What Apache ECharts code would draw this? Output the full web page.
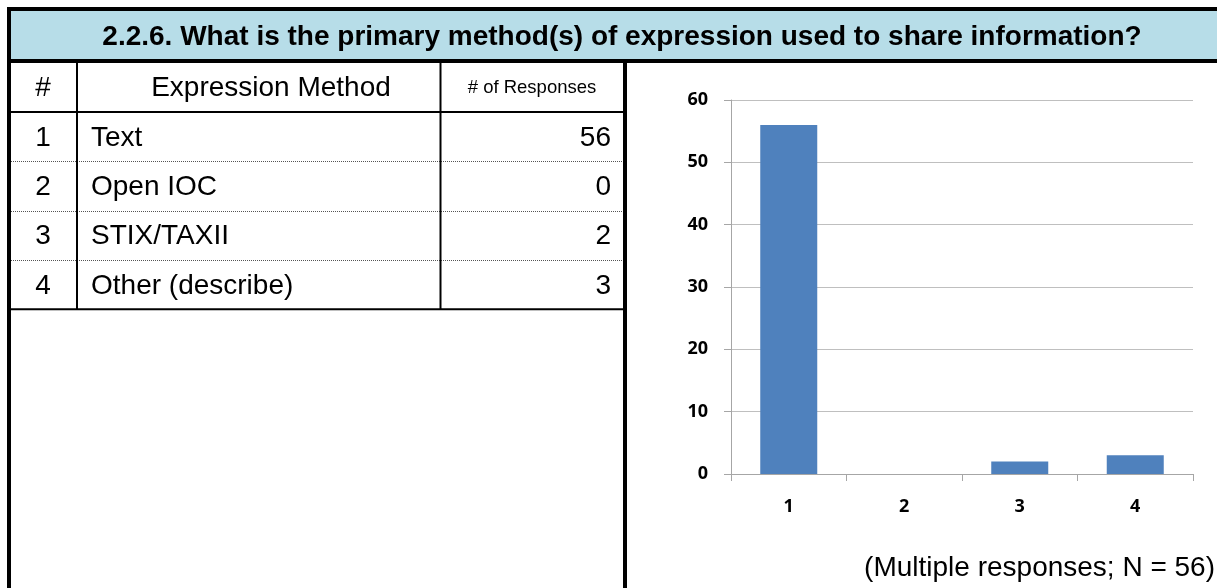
<!DOCTYPE html>
<html>
<head>
<meta charset="utf-8">
<script src="https://cdn.jsdelivr.net/npm/echarts@6/dist/echarts.min.js"></script>
<style>
  html, body { margin: 0; padding: 0; background: #fff; }
  #chart { width: 1217px; height: 588px; }
</style>
</head>
<body>
<div id="chart"></div>
<script>
// Survey question and its answer table
const questionTitle = '2.2.6. What is the primary method(s) of expression used to share information?';
const headerLabels = ['#', 'Expression Method', '# of Responses'];
const rowNumbers = ['1', '2', '3', '4'];
const methods = ['Text', 'Open IOC', 'STIX/TAXII', 'Other (describe)'];
const responses = [56, 0, 2, 3];
const footnote = '(Multiple responses; N = 56)';
const yTicks = { min: 0, max: 60, interval: 10 };

const chart = echarts.init(document.getElementById('chart'), null, { renderer: 'canvas' });

const FONT = '"Liberation Sans", Arial, sans-serif';
const TICK_FONT = '"Open Sans", "DejaVu Sans", sans-serif';

// Table geometry
const tableLeft = 9, tableRight = 625;
const headerTop = 61, headerBottom = 112;
const rowH = 49.3;
const col1 = 77, col2 = 440.5;

const g = [];
function line(x1, y1, x2, y2, w, extra) {
  g.push(Object.assign({
    type: 'line', silent: true,
    shape: { x1, y1, x2, y2 },
    style: Object.assign({ stroke: '#000', lineWidth: w }, extra || {})
  }));
}
function text(str, x, y, size, align, weight) {
  g.push({
    type: 'text', silent: true, x, y,
    style: {
      text: str, fill: '#000', font: (weight || 'normal') + ' ' + size + 'px ' + FONT,
      textAlign: align || 'left', textVerticalAlign: 'middle'
    }
  });
}

// Title band
g.push({ type: 'rect', silent: true, shape: { x: 9, y: 9, width: 1210, height: 52 }, style: { fill: '#B7DDE8' } });
text(questionTitle, 622, 37, 28, 'center', 'bold');

// Header row
text(headerLabels[0], (tableLeft + col1) / 2, 88, 28, 'center');
text(headerLabels[1], 271, 88, 28, 'center');
text(headerLabels[2], 532, 88, 18.5, 'center');

// Body rows
rowNumbers.forEach((n, i) => {
  const cy = headerBottom + rowH * i + rowH / 2 + 1.5;
  text(n, (tableLeft + col1) / 2, cy, 28, 'center');
  text(methods[i], 91, cy, 28, 'left');
  text(String(responses[i]), 611, cy, 28, 'right');
});

// Grid rules
const bodyBottom = headerBottom + rowH * rowNumbers.length;
for (let i = 1; i < rowNumbers.length; i++) {
  const y = Math.round(headerBottom + rowH * i) + 0.5;
  line(tableLeft, y, tableRight, y, 1, { stroke: '#555', lineDash: [1, 1] });
}
line(tableLeft, headerBottom, tableRight, headerBottom, 2);
line(tableLeft, bodyBottom, tableRight, bodyBottom, 2);
line(col1, headerTop, col1, bodyBottom, 2);
line(col2, headerTop, col2, bodyBottom, 2);

// Frame
line(7, 9, 1217, 9, 4);
line(9, 7, 9, 588, 4);
line(7, 61, 1217, 61, 4);
line(tableRight, 61, tableRight, 588, 4);

// Footnote
text(footnote, 1215, 568, 28, 'right');

chart.setOption({
  animation: false,
  backgroundColor: '#fff',
  grid: { left: 731, right: 24, top: 100, bottom: 114, containLabel: false },
  xAxis: {
    type: 'category',
    data: rowNumbers,
    axisLine: { lineStyle: { color: '#A6A6A6', width: 1 } },
    axisTick: { show: true, length: 7, alignWithLabel: false, lineStyle: { color: '#A6A6A6' } },
    axisLabel: { margin: 24, color: '#000', fontFamily: TICK_FONT, fontWeight: 'bold', fontSize: 18 },
    splitLine: { show: false }
  },
  yAxis: {
    type: 'value',
    min: yTicks.min, max: yTicks.max, interval: yTicks.interval,
    axisLine: { show: true, lineStyle: { color: '#A6A6A6', width: 1 } },
    axisTick: { show: true, length: 7, lineStyle: { color: '#A6A6A6' } },
    axisLabel: { margin: 23, color: '#000', fontFamily: TICK_FONT, fontWeight: 'bold', fontSize: 18 },
    splitLine: { show: true, lineStyle: { color: '#BFBFBF', width: 1 } }
  },
  series: [{
    type: 'bar',
    data: responses,
    barWidth: 57,
    itemStyle: { color: '#4F81BD' }
  }],
  graphic: g
});
</script>
</body>
</html>
